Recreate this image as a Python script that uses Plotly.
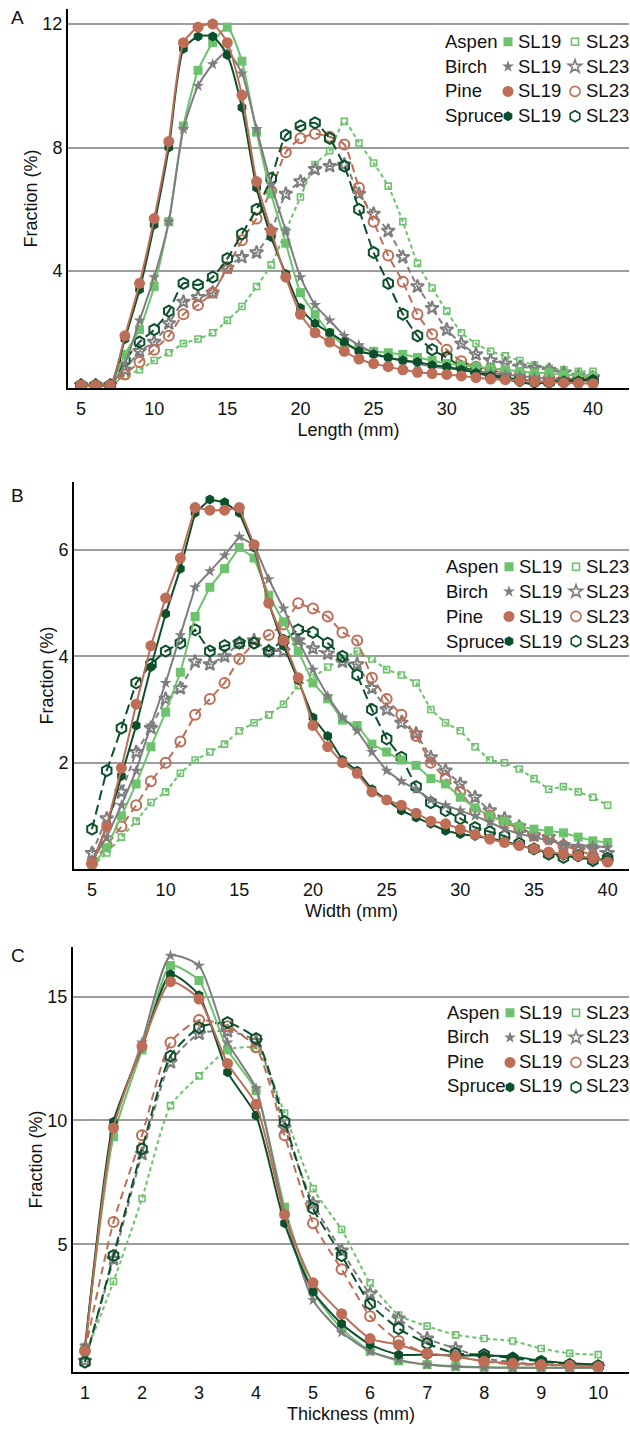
import plotly.graph_objects as go

W, H = 630, 1430
FONT = "Liberation Sans Narrow, Arial Narrow, Liberation Sans, Arial, sans-serif"

# ---------------- data ----------------
species = ["Aspen", "Birch", "Pine", "Spruce"]
series_labels = ["SL19", "SL23"]

# Panel A: Length (mm)
len_x = list(range(5, 41))
len_aspen_sl19 = [0.3, 0.3, 0.3, 1.3, 2.1, 3.5, 5.6, 8.7, 10.5, 11.4, 11.9, 10.8, 8.5, 6.5, 4.9, 3.3, 2.6, 2.0,
                  1.6, 1.5, 1.4, 1.35, 1.3, 1.2, 1.1, 1.0, 0.95, 0.9, 0.85, 0.8, 0.75, 0.7, 0.7, 0.65, 0.6, 0.6]
len_birch_sl19 = [0.3, 0.3, 0.3, 1.0, 2.4, 3.8, 5.6, 8.6, 10.0, 10.7, 11.1, 10.4, 8.6, 6.8, 5.3, 3.8, 2.9, 2.4,
                  1.9, 1.6, 1.35, 1.2, 1.1, 1.0, 0.9, 0.85, 0.8, 0.75, 0.7, 0.65, 0.6, 0.55, 0.5, 0.45, 0.45, 0.4]
len_pine_sl19 = [0.3, 0.3, 0.3, 1.9, 3.6, 5.7, 8.2, 11.4, 11.9, 12.0, 11.4, 9.7, 6.9, 5.3, 3.8, 2.6, 2.0, 1.7,
                 1.4, 1.15, 1.0, 0.9, 0.8, 0.72, 0.68, 0.65, 0.6, 0.55, 0.5, 0.48, 0.45, 0.42, 0.4, 0.38, 0.36, 0.35]
len_spruce_sl19 = [0.3, 0.3, 0.3, 1.8, 3.4, 5.5, 8.0, 11.2, 11.6, 11.6, 11.0, 9.3, 6.7, 5.1, 3.9, 2.8, 2.3, 2.0,
                   1.7, 1.4, 1.3, 1.2, 1.1, 1.05, 0.95, 0.9, 0.8, 0.7, 0.6, 0.5, 0.4, 0.35, 0.4, 0.45, 0.45, 0.5]
len_aspen_sl23 = [0.3, 0.3, 0.3, 0.6, 0.8, 1.1, 1.35, 1.65, 1.8, 2.0, 2.4, 2.85, 3.5, 4.2, 5.3, 6.4, 7.45, 7.9,
                  8.85, 8.15, 7.5, 6.75, 5.6, 4.25, 3.45, 2.7, 2.0, 1.65, 1.4, 1.25, 1.1, 0.95, 0.85, 0.8, 0.75, 0.75]
len_birch_sl23 = [0.3, 0.3, 0.3, 0.8, 1.4, 1.7, 2.3, 3.0, 3.15, 3.3, 4.1, 4.45, 4.6, 5.3, 6.5, 6.9, 7.3, 7.4,
                  7.45, 6.5, 5.85, 5.3, 4.45, 3.5, 2.8, 2.1, 1.65, 1.3, 1.1, 1.0, 0.9, 0.85, 0.8, 0.7, 0.6, 0.55]
len_pine_sl23 = [0.3, 0.3, 0.3, 0.65, 1.05, 1.45, 1.9, 2.6, 2.9, 3.3, 4.1, 5.0, 5.7, 6.6, 7.85, 8.3, 8.45, 8.35,
                 8.1, 6.7, 5.6, 4.5, 3.65, 2.6, 1.95, 1.45, 1.08, 0.9, 0.8, 0.7, 0.65, 0.6, 0.55, 0.52, 0.5, 0.5]
len_spruce_sl23 = [0.3, 0.3, 0.3, 1.1, 1.7, 2.1, 2.7, 3.6, 3.55, 3.8, 4.4, 5.2, 6.0, 7.0, 8.4, 8.7, 8.8, 8.3,
                   7.4, 6.0, 4.6, 3.6, 2.6, 1.9, 1.45, 1.2, 0.9, 0.75, 0.65, 0.55, 0.48, 0.43, 0.4, 0.42, 0.45, 0.45]

# Panel B: Width (mm)
wid_x = list(range(5, 41))
wid_aspen_sl19 = [0.06, 0.4, 1.0, 1.6, 2.3, 2.95, 3.7, 4.75, 5.3, 5.65, 6.05, 5.85, 5.15, 4.65, 4.1, 3.5, 3.2, 2.8,
                  2.7, 2.35, 2.2, 2.05, 1.95, 1.7, 1.6, 1.35, 1.15, 1.0, 0.9, 0.8, 0.75, 0.72, 0.68, 0.6, 0.53, 0.5]
wid_birch_sl19 = [0.15, 0.6, 1.2, 1.85, 2.7, 3.5, 4.4, 5.3, 5.6, 5.9, 6.25, 6.1, 5.45, 4.9, 4.3, 3.75, 3.25, 2.85,
                  2.6, 2.2, 1.85, 1.65, 1.5, 1.3, 1.2, 1.1, 1.0, 0.88, 0.75, 0.66, 0.6, 0.53, 0.47, 0.44, 0.44, 0.4]
wid_pine_sl19 = [0.1, 0.8, 1.9, 3.1, 4.2, 5.1, 5.85, 6.8, 6.75, 6.75, 6.8, 6.1, 5.0, 4.3, 3.6, 2.7, 2.3, 2.0,
                 1.8, 1.45, 1.3, 1.2, 1.05, 0.9, 0.85, 0.75, 0.65, 0.56, 0.5, 0.44, 0.38, 0.32, 0.28, 0.25, 0.2, 0.13]
wid_spruce_sl19 = [0.1, 0.8, 1.75, 2.7, 3.8, 4.8, 5.65, 6.7, 6.95, 6.9, 6.7, 6.05, 5.0, 4.2, 3.55, 2.85, 2.5, 2.05,
                   1.85, 1.5, 1.3, 1.1, 0.97, 0.85, 0.72, 0.66, 0.62, 0.58, 0.52, 0.45, 0.38, 0.3, 0.25, 0.22, 0.18, 0.18]
wid_aspen_sl23 = [0.05, 0.3, 0.6, 0.9, 1.25, 1.45, 1.8, 2.05, 2.2, 2.35, 2.6, 2.75, 2.9, 3.1, 3.45, 3.6, 3.8, 3.95,
                  4.1, 3.95, 3.75, 3.65, 3.5, 3.0, 2.75, 2.6, 2.3, 2.05, 2.0, 1.88, 1.7, 1.5, 1.55, 1.45, 1.35, 1.2]
wid_birch_sl23 = [0.3, 0.95, 1.45, 2.2, 2.65, 3.2, 3.4, 3.9, 3.85, 4.0, 4.25, 4.3, 4.1, 4.1, 4.3, 4.15, 4.05, 3.9,
                  3.85, 3.4, 3.0, 2.75, 2.55, 2.1, 1.85, 1.6, 1.35, 1.1, 0.95, 0.8, 0.63, 0.6, 0.45, 0.38, 0.38, 0.3]
wid_pine_sl23 = [0.1, 0.45, 0.8, 1.2, 1.65, 2.0, 2.4, 2.9, 3.2, 3.5, 3.95, 4.25, 4.4, 4.6, 5.0, 4.9, 4.75, 4.45,
                 4.3, 3.6, 3.2, 2.9, 2.5, 2.0, 1.7, 1.45, 1.1, 1.0, 0.88, 0.75, 0.63, 0.56, 0.44, 0.35, 0.25, 0.16]
wid_spruce_sl23 = [0.75, 1.85, 2.65, 3.5, 3.85, 4.1, 4.25, 4.5, 4.1, 4.2, 4.25, 4.25, 4.1, 4.3, 4.5, 4.45, 4.25, 4.0,
                   3.65, 3.0, 2.45, 2.1, 1.55, 1.25, 1.1, 0.95, 0.78, 0.7, 0.62, 0.48, 0.38, 0.28, 0.22, 0.25, 0.16, 0.2]

# Panel C: Thickness (mm)
thk_x = [1, 1.5, 2, 2.5, 3, 3.5, 4, 4.5, 5, 5.5, 6, 6.5, 7, 7.5, 8, 8.5, 9, 9.5, 10]
thk_aspen_sl19 = [0.85, 9.35, 12.85, 16.25, 15.65, 12.85, 11.2, 6.5, 3.1, 1.6, 0.7, 0.3, 0.15, 0.08, 0.04, 0.03, 0.02, 0.02, 0.02]
thk_birch_sl19 = [0.9, 9.75, 13.15, 16.65, 16.25, 13.15, 11.3, 6.25, 2.75, 1.45, 0.68, 0.34, 0.15, 0.06, 0.03, 0.02, 0.02, 0.02, 0.02]
thk_pine_sl19 = [0.7, 9.7, 13.0, 15.6, 14.9, 12.3, 10.65, 6.2, 3.45, 2.2, 1.2, 0.95, 0.6, 0.48, 0.28, 0.2, 0.15, 0.12, 0.07]
thk_spruce_sl19 = [0.75, 9.95, 12.95, 15.9, 15.05, 11.95, 10.2, 5.85, 3.1, 1.8, 0.95, 0.55, 0.55, 0.52, 0.52, 0.48, 0.3, 0.2, 0.15]
thk_aspen_sl23 = [0.5, 3.5, 6.85, 10.6, 11.8, 12.85, 12.9, 10.3, 7.25, 5.6, 3.45, 2.15, 1.7, 1.35, 1.2, 1.1, 0.8, 0.6, 0.55]
thk_birch_sl23 = [0.3, 4.4, 8.65, 12.35, 13.5, 13.6, 13.2, 9.7, 6.65, 4.75, 3.0, 2.0, 1.2, 0.8, 0.4, 0.25, 0.15, 0.1, 0.05]
thk_pine_sl23 = [0.7, 5.9, 9.4, 13.15, 14.05, 13.8, 12.95, 9.4, 5.85, 4.0, 2.1, 1.1, 0.6, 0.48, 0.28, 0.15, 0.14, 0.12, 0.08]
thk_spruce_sl23 = [0.25, 4.55, 8.85, 12.6, 13.75, 13.95, 13.3, 9.95, 6.45, 4.55, 2.6, 1.6, 1.0, 0.6, 0.55, 0.4, 0.28, 0.15, 0.1]

panel_letters = ["A", "B", "C"]
x_titles = ["Length (mm)", "Width (mm)", "Thickness (mm)"]
y_title = "Fraction (%)"
x_ticks = [[5, 10, 15, 20, 25, 30, 35, 40], [5, 10, 15, 20, 25, 30, 35, 40], [1, 2, 3, 4, 5, 6, 7, 8, 9, 10]]
y_ticks = [[4, 8, 12], [2, 4, 6], [5, 10, 15]]

# ---------------- styles ----------------
colors = {"Aspen": "#6DC26D", "Birch": "#7E7E7E", "Pine": "#BE6E57", "Spruce": "#0C4F2B"}
sym19 = {"Aspen": "square", "Birch": "star", "Pine": "circle", "Spruce": "hexagon"}
sym23 = {"Aspen": "square-open", "Birch": "star-open", "Pine": "circle-open", "Spruce": "hexagon-open"}
size19 = {"Aspen": 9, "Birch": 9, "Pine": 11, "Spruce": 10}
size23 = {"Aspen": 6, "Birch": 10, "Pine": 10, "Spruce": 11}
dash23 = {"Aspen": "4px,3px", "Birch": "6px,4px", "Pine": "8px,5px", "Spruce": "10px,5px"}

panels = [
    dict(x=len_x, ax="x", ay="y",
         sl19={"Aspen": len_aspen_sl19, "Birch": len_birch_sl19, "Pine": len_pine_sl19, "Spruce": len_spruce_sl19},
         sl23={"Aspen": len_aspen_sl23, "Birch": len_birch_sl23, "Pine": len_pine_sl23, "Spruce": len_spruce_sl23},
         shape="spline"),
    dict(x=wid_x, ax="x2", ay="y2",
         sl19={"Aspen": wid_aspen_sl19, "Birch": wid_birch_sl19, "Pine": wid_pine_sl19, "Spruce": wid_spruce_sl19},
         sl23={"Aspen": wid_aspen_sl23, "Birch": wid_birch_sl23, "Pine": wid_pine_sl23, "Spruce": wid_spruce_sl23},
         shape="linear"),
    dict(x=thk_x, ax="x3", ay="y3",
         sl19={"Aspen": thk_aspen_sl19, "Birch": thk_birch_sl19, "Pine": thk_pine_sl19, "Spruce": thk_spruce_sl19},
         sl23={"Aspen": thk_aspen_sl23, "Birch": thk_birch_sl23, "Pine": thk_pine_sl23, "Spruce": thk_spruce_sl23},
         shape="spline"),
]

# pixel geometry of each panel: (left, right, top, bottom), axis ranges, panel-letter position
geom = [
    dict(l=68, r=629, t=9, b=388, xr=[4.11, 42.46], yr=[0.21, 12.49], lx=9, ly=17),
    dict(l=74, r=629, t=482, b=869, xr=[3.78, 41.45], yr=[0.0, 7.28], lx=9, ly=495),
    dict(l=73, r=629, t=947, b=1372, xr=[0.79, 10.54], yr=[-0.15, 17.0], lx=9, ly=955),
]
# legend layout (pixels): first row centre, row step, label x, SL19 marker x, SL19 text x, SL23 marker x, SL23 text x
leg = [
    dict(r0=41.7, dr=24.5, lab=444, m19=508, t19=517, m23=575, t23=585),
    dict(r0=566.7, dr=25.0, lab=445, m19=509, t19=518, m23=576, t23=585),
    dict(r0=1012.7, dr=24.2, lab=446, m19=510, t19=518, m23=576, t23=585),
]
LEG_TXT = 18.5

def fx(px):
    return px / W

def fy(py):
    return 1 - py / H

fig = go.Figure()
order = [("SL23", "Aspen"), ("SL23", "Birch"), ("SL23", "Pine"), ("SL23", "Spruce"),
         ("SL19", "Aspen"), ("SL19", "Birch"), ("SL19", "Spruce"), ("SL19", "Pine")]

for p in panels:
    for lab, sp in order:
        sm = 0.6 if p["shape"] == "spline" else None
        if lab == "SL19":
            y = p["sl19"][sp]
            marker = dict(symbol=sym19[sp], size=size19[sp], color=colors[sp], line=dict(width=0))
            line = dict(color=colors[sp], width=2, shape=p["shape"], smoothing=sm)
        else:
            y = p["sl23"][sp]
            marker = dict(symbol=sym23[sp], size=size23[sp], color=colors[sp],
                          line=dict(width=2 if sp != "Aspen" else 1.6, color=colors[sp]))
            line = dict(color=colors[sp], width=2, dash=dash23[sp], shape=p["shape"], smoothing=sm)
        fig.add_trace(go.Scatter(x=p["x"], y=y, mode="lines+markers", marker=marker, line=line,
                                 name=f"{sp} {lab}", showlegend=False, xaxis=p["ax"], yaxis=p["ay"],
                                 hoverinfo="skip"))

# legend symbol entries (no data, legend only)
LEG_FS = 16.8
ITEM_H = LEG_FS * 1.3 + 3
SYM_OFF = 20  # symbol centre offset from legend left edge
layout_legends = {}
li = 1
for pi, lg in enumerate(leg):
    for lab, mx in (("SL19", lg["m19"]), ("SL23", lg["m23"])):
        key = "legend" if li == 1 else f"legend{li}"
        layout_legends[key] = dict(
            x=fx(mx - SYM_OFF), y=fy(lg["r0"] - 5 - ITEM_H / 2), xanchor="left", yanchor="top",
            bgcolor="rgba(0,0,0,0)", borderwidth=0, font=dict(size=LEG_FS, family=FONT),
            traceorder="normal", itemclick=False, itemdoubleclick=False)
        for sp in species:
            if lab == "SL19":
                marker = dict(symbol=sym19[sp], size=size19[sp], color=colors[sp], line=dict(width=0))
            else:
                marker = dict(symbol=sym23[sp], size=size23[sp] + (1 if sp == "Aspen" else 0), color=colors[sp],
                              line=dict(width=1.6, color=colors[sp]))
            fig.add_trace(go.Scatter(x=[None], y=[None], mode="markers", marker=marker, name=" ",
                                     showlegend=True, legend=key, xaxis=panels[pi]["ax"], yaxis=panels[pi]["ay"]))
        li += 1

annotations = []
for pi, lg in enumerate(leg):
    for i, sp in enumerate(species):
        yc = fy(lg["r0"] + i * lg["dr"])
        for txt, xx in ((sp, lg["lab"]), ("SL19", lg["t19"]), ("SL23", lg["t23"])):
            annotations.append(dict(text=txt, x=fx(xx), y=yc, xref="paper", yref="paper", xanchor="left",
                                    yanchor="middle", showarrow=False, borderpad=0,
                                    font=dict(size=LEG_TXT, family=FONT, color="#111")))
for pi, g in enumerate(geom):
    annotations.append(dict(text=panel_letters[pi], x=fx(g["lx"]), y=fy(g["ly"]), xref="paper", yref="paper",
                            xanchor="left", yanchor="middle", showarrow=False,
                            font=dict(size=19, family=FONT, color="#111")))

layout = dict(width=W, height=H, margin=dict(l=0, r=0, t=0, b=0, autoexpand=False),
              paper_bgcolor="white", plot_bgcolor="white",
              font=dict(family=FONT, color="#111", size=18), annotations=annotations, showlegend=True)
for pi, g in enumerate(geom):
    sfx = "" if pi == 0 else str(pi + 1)
    layout["xaxis" + sfx] = dict(domain=[fx(g["l"]), fx(g["r"])], range=g["xr"], anchor="y" + sfx,
                                 automargin=False, ticklabelstandoff=3,
                                 tickvals=x_ticks[pi], showgrid=False, zeroline=False, showline=True,
                                 linecolor="black", linewidth=2, ticks="", tickfont=dict(size=18, family=FONT),
                                 title=dict(text=x_titles[pi], font=dict(size=18, family=FONT), standoff=6))
    layout["yaxis" + sfx] = dict(domain=[fy(g["b"]), fy(g["t"])], range=g["yr"], anchor="x" + sfx,
                                 automargin=False,
                                 tickvals=y_ticks[pi], showgrid=True, gridcolor="#9C9C9C", gridwidth=2,
                                 zeroline=False, showline=True, linecolor="black", linewidth=2, ticks="",
                                 tickfont=dict(size=18, family=FONT),
                                 title=dict(text=y_title, font=dict(size=18, family=FONT), standoff=0))
layout.update(layout_legends)
fig.update_layout(**layout)

# remove the default page margin so the 630x1430 figure fills the window exactly
page_fix = ("document.documentElement.style.margin='0';document.body.style.margin='0';"
            "document.body.style.overflow='hidden';document.documentElement.style.overflow='hidden';")
fig.write_html("out.html", post_script=page_fix, config={"displayModeBar": False})
